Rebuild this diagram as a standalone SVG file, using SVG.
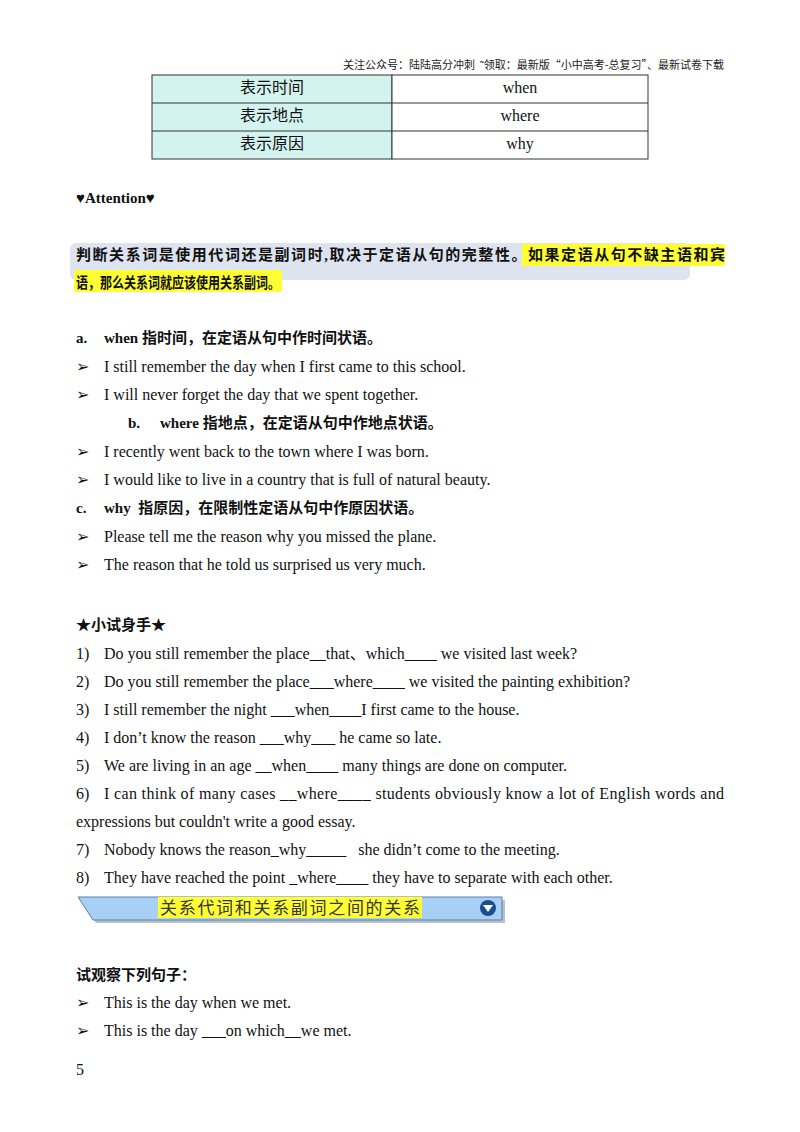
<svg xmlns="http://www.w3.org/2000/svg" width="800" height="1132" viewBox="0 0 800 1132">
<style>
.t{font-family:"Liberation Serif","Noto Sans CJK SC",serif;font-size:16px;fill:#111}
.b{font-weight:bold;font-size:15px}
.h{font-family:"Noto Sans CJK SC",sans-serif;font-size:11px;fill:#222}
.m{text-anchor:middle}
</style>
<rect width="800" height="1132" fill="#fff"/>
<text class="h" x="724" y="69" text-anchor="end" xml:space="preserve">关注公众号：陆陆高分冲刺  ˜领取：最新版“小中高考-总复习”、最新试卷下载</text>
<g id="table" stroke="#333" stroke-width="1">
<rect x="152" y="75" width="240" height="84" fill="#d3f3ee"/>
<rect x="392" y="75" width="256" height="84" fill="#fff"/>
<line x1="152" y1="103" x2="648" y2="103"/>
<line x1="152" y1="131" x2="648" y2="131"/>
</g>
<g class="t">
<text x="272" y="93" class="m">表示时间</text><text x="520" y="93" class="m">when</text>
<text x="272" y="121" class="m">表示地点</text><text x="520" y="121" class="m">where</text>
<text x="272" y="149" class="m">表示原因</text><text x="520" y="149" class="m">why</text>
</g>
<text class="t b" x="76" y="203">♥Attention♥</text>
<rect x="70" y="243" width="620" height="37" rx="6" fill="#dde3ef"/>
<rect x="522" y="244" width="203" height="22" fill="#ffff33"/>
<rect x="74" y="270" width="208" height="22" fill="#ffff33"/>
<text class="t b" x="76" y="260" textLength="649" lengthAdjust="spacing">判断关系词是使用代词还是副词时,取决于定语从句的完整性。如果定语从句不缺主语和宾</text>
<text class="t b" x="76" y="288" textLength="204" lengthAdjust="spacingAndGlyphs">语，那么关系词就应该使用关系副词。</text>
<g class="t b"><text x="76" y="343">a.</text><text x="104" y="343">when 指时间，在定语从句中作时间状语。</text>
<text x="128" y="428">b.</text><text x="160" y="428">where 指地点，在定语从句中作地点状语。</text>
<text x="76" y="513">c.</text><text x="104" y="513" xml:space="preserve">why  指原因，在限制性定语从句中作原因状语。</text></g>
<g class="t">
<text x="76" y="372">➢</text><text x="104" y="372">I still remember the day when I first came to this school.</text>
<text x="76" y="400">➢</text><text x="104" y="400">I will never forget the day that we spent together.</text>
<text x="76" y="457">➢</text><text x="104" y="457">I recently went back to the town where I was born.</text>
<text x="76" y="485">➢</text><text x="104" y="485">I would like to live in a country that is full of natural beauty.</text>
<text x="76" y="542">➢</text><text x="104" y="542">Please tell me the reason why you missed the plane.</text>
<text x="76" y="570">➢</text><text x="104" y="570">The reason that he told us surprised us very much.</text>
</g>
<text class="t b" x="76" y="630">★小试身手★</text>
<g class="t">
<text x="76" y="659">1)</text><text x="104" y="659">Do you still remember the place__that、which____ we visited last week?</text>
<text x="76" y="687">2)</text><text x="104" y="687">Do you still remember the place___where____ we visited the painting exhibition?</text>
<text x="76" y="715">3)</text><text x="104" y="715">I still remember the night ___when____I first came to the house.</text>
<text x="76" y="743">4)</text><text x="104" y="743">I don’t know the reason ___why___ he came so late.</text>
<text x="76" y="771">5)</text><text x="104" y="771">We are living in an age __when____ many things are done on computer.</text>
<text x="76" y="799">6)</text><text x="104" y="799" textLength="620" lengthAdjust="spacing">I can think of many cases __where____ students obviously know a lot of English words and</text>
<text x="76" y="827">expressions but couldn't write a good essay.</text>
<text x="76" y="855">7)</text><text x="104" y="855" xml:space="preserve">Nobody knows the reason_why_____   she didn’t come to the meeting.</text>
<text x="76" y="883">8)</text><text x="104" y="883">They have reached the point _where____ they have to separate with each other.</text>
</g>
<g id="banner">
<polygon points="81,900 505,900 505,923 96,923" fill="#8899aa" opacity="0.6"/>
<polygon points="78,897 502,897 502,920 93,920" fill="#a8d0f5" stroke="#5a7fa8" stroke-width="1"/>
<rect x="158" y="897" width="264" height="21" fill="#ffff33"/>
<text x="160" y="914" textLength="260" style="font-family:'Noto Sans CJK SC',sans-serif;font-size:17px;fill:#333">关系代词和关系副词之间的关系</text>
<circle cx="488" cy="908" r="8" fill="#1a4f8f"/>
<polygon points="483,905 493,905 488,912" fill="#fff"/>
</g>
<text class="t b" x="76" y="980">试观察下列句子：</text>
<g class="t">
<text x="76" y="1008">➢</text><text x="104" y="1008">This is the day when we met.</text>
<text x="76" y="1036">➢</text><text x="104" y="1036">This is the day ___on which__we met.</text>
</g>
<text class="t" x="76" y="1075">5</text>
</svg>
